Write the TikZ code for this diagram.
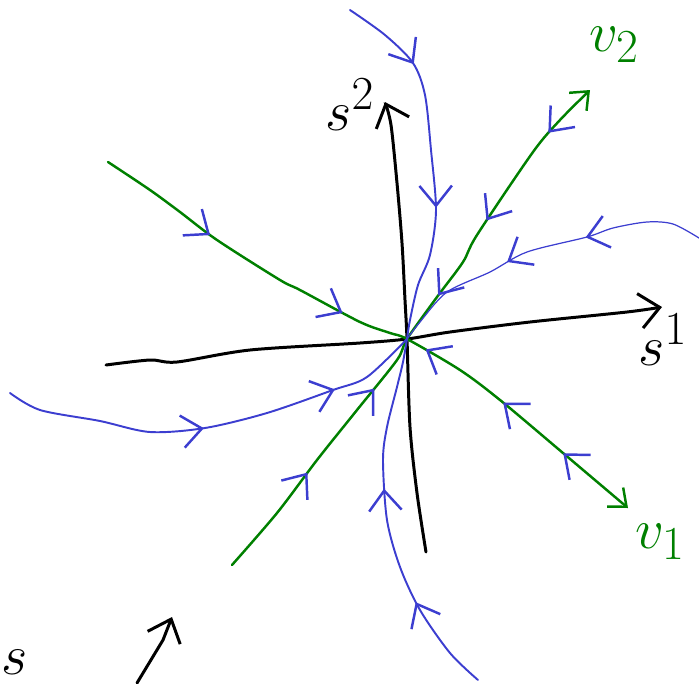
\documentclass[tikz,border=0pt]{standalone}
\usetikzlibrary{arrows.meta,decorations.markings}
\definecolor{flowblue}{RGB}{60,62,208}
\definecolor{eigengreen}{RGB}{0,128,0}
\begin{document}
\begin{tikzpicture}[x=0.2mm,y=-0.2mm,
  axis/.style={line width=1.7pt,line cap=round},
  eigen/.style={eigengreen,line width=1.4pt,line cap=round},
  traj/.style={flowblue,line width=1.1pt,line cap=round},
  flowtip/.tip={Straight Barb[length=4mm,width=6.5mm,line width=1.4pt]},
  fwd/.style={postaction={decorate,decoration={markings,mark=at position #1 with {\arrow[color=flowblue]{flowtip}}}}},
  bwd/.style={postaction={decorate,decoration={markings,mark=at position #1 with {\arrowreversed[color=flowblue]{flowtip}}}}},
  lbl/.style={font=\Huge,scale=1.3,inner sep=0pt}]
\useasboundingbox(0,0)rectangle(699,683);
\coordinate(o)at(407,339);
\draw[axis,-{Straight Barb[length=4mm,width=7mm]}]plot[smooth]coordinates{(106,365)(150,360)(177,362)(250,350)(360,343)(o)(450,332)(530,322)(627,312)(662,307)};
\draw[axis,-{Straight Barb[length=4mm,width=7mm]}]plot[smooth]coordinates{(426,552)(417,493)(410,427)(o)(405,300)(402,243)(397,183)(391,125)(385,102)};
\node[lbl](s2)at(350,105){$s^2$};\node[lbl,anchor=east](s1)at(688,340){$s^1$};
\draw[eigen,-{Straight Barb[length=3mm,width=5mm]},fwd=0.2,fwd=0.38,bwd=0.57,bwd=0.72,bwd=0.9]plot[smooth]coordinates{(232,565)(277,513)(317,460)(357,410)(397,360)(o)(437,297)(463,262)(477,235)(533,152)(560,120)(590,90)};
\draw[eigen,-{Straight Barb[length=3mm,width=5mm]},fwd=0.2,fwd=0.445,bwd=0.59,bwd=0.74,bwd=0.865]plot[smooth]coordinates{(108,162)(150,190)(180,212)(217,240)(280,280)(300,290)(360,322)(390,333)(o)(460,370)(500,400)(563,453)(628,508)};
\node[lbl,eigengreen](v2)at(614,45){$v_2$};\node[lbl,eigengreen](v1)at(660,542){$v_1$};
\draw[traj,fwd=0.23,fwd=0.63]plot[smooth]coordinates{(350,10)(385,35)(413,63)(425,95)(431,150)(436,210)(430,255)(418,285)(410,320)(o)};
\draw[traj,fwd=0.27,fwd=0.59]plot[smooth]coordinates{(478,680)(450,653)(420,610)(400,567)(387,520)(383,460)(387,427)(397,387)(403,362)(o)};
\draw[traj,fwd=0.47,fwd=0.79]plot[smooth]coordinates{(10,393)(40,410)(100,421)(150,432)(205,428)(267,413)(333,390)(367,377)(o)};
\draw[traj,line width=0.7pt,fwd=0.36,fwd=0.61]plot[smooth]coordinates{(699,238)(673,224)(647,222)(613,228)(587,237)(527,252)(490,272)(447,292)(420,322)(o)};
\draw[axis,-{Straight Barb[length=4mm,width=7mm]}](137,683)--(163,640)--(172,617);
\node[lbl,anchor=west](s0)at(1,662){$s$};
\end{tikzpicture}
\end{document}
